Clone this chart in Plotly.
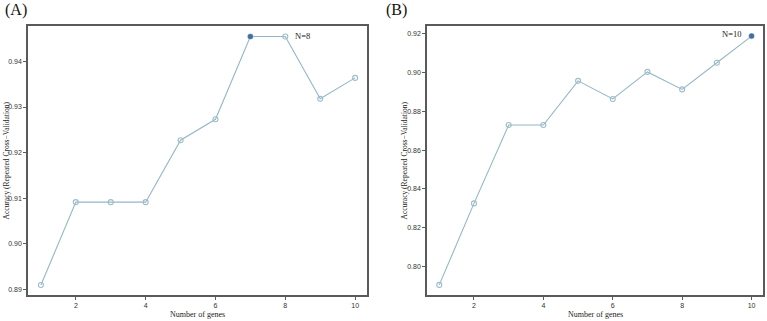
import plotly.graph_objects as go

genes = [1, 2, 3, 4, 5, 6, 7, 8, 9, 10]
acc_a = [0.8909, 0.9091, 0.9091, 0.9091, 0.9227, 0.9273, 0.9455, 0.9455, 0.9318, 0.9364]
acc_b = [0.7907, 0.8326, 0.8729, 0.8729, 0.8956, 0.8863, 0.9002, 0.8912, 0.9049, 0.9186]
best_a_x, best_a_y, label_a = 7, 0.9455, "N=8"
label_a_x = 8
best_b_x, best_b_y, label_b = 10, 0.9186, "N=10"
yticks_a = [0.89, 0.90, 0.91, 0.92, 0.93, 0.94]
yticks_b = [0.80, 0.82, 0.84, 0.86, 0.88, 0.90, 0.92]
xticks = [2, 4, 6, 8, 10]

line_col = "#94b8c4"
mk_col = "#9fbccb"
best_col = "#3f6fa3"
axis_col = "#5a5a5a"
serif = "Liberation Serif, Times New Roman, serif"
sans = "Liberation Sans, Arial, sans-serif"

fig = go.Figure()
for acc, xa, ya in [(acc_a, "x", "y"), (acc_b, "x2", "y2")]:
    fig.add_trace(go.Scatter(
        x=genes, y=acc, mode="lines+markers", xaxis=xa, yaxis=ya,
        line=dict(color=line_col, width=1.1),
        marker=dict(symbol="circle-open", size=5, color=mk_col, line=dict(width=1.1, color=mk_col)),
        showlegend=False, hoverinfo="x+y"))
fig.add_trace(go.Scatter(x=[best_a_x], y=[best_a_y], mode="markers", xaxis="x", yaxis="y",
                         marker=dict(size=5, color=best_col), showlegend=False))
fig.add_trace(go.Scatter(x=[best_b_x], y=[best_b_y], mode="markers", xaxis="x2", yaxis="y2",
                         marker=dict(size=5, color=best_col), showlegend=False))

ax_common = dict(showline=True, linecolor=axis_col, linewidth=1.5, mirror=True,
                 showgrid=False, zeroline=False, ticks="outside", ticklen=3,
                 tickcolor=axis_col, tickwidth=1,
                 tickfont=dict(family=sans, size=7, color="#333333"), automargin=False)

dom_y = [1 - 295 / 321, 1 - 26 / 321]
fig.update_layout(
    width=767, height=321, margin=dict(l=0, r=0, t=0, b=0),
    plot_bgcolor="white", paper_bgcolor="white",
    xaxis=dict(domain=[28 / 767, 367 / 767], range=[0.63, 10.34], tickvals=xticks, anchor="y", **ax_common),
    yaxis=dict(domain=dom_y, range=[0.8887, 0.9478], tickvals=yticks_a,
               tickformat=".2f", anchor="x", **ax_common),
    xaxis2=dict(domain=[427 / 767, 763 / 767], range=[0.646, 10.33], tickvals=xticks, anchor="y2", **ax_common),
    yaxis2=dict(domain=dom_y, range=[0.7855, 0.9238], tickvals=yticks_b,
                tickformat=".2f", anchor="x2", **ax_common),
)

ann = []
ann.append(dict(x=label_a_x, y=best_a_y, xref="x", yref="y", text=label_a, showarrow=False,
                xanchor="left", xshift=8, font=dict(family=serif, size=8.5, color="#222")))
ann.append(dict(x=best_b_x, y=best_b_y, xref="x2", yref="y2", text=label_b, showarrow=False,
                xanchor="right", xshift=-9, yshift=2, font=dict(family=serif, size=8.5, color="#222")))
ann.append(dict(x=3 / 767, y=1 - 10 / 321, xref="paper", yref="paper", text="(A)", showarrow=False,
                xanchor="left", yanchor="middle", font=dict(family=serif, size=16, color="#111")))
ann.append(dict(x=384 / 767, y=1 - 10 / 321, xref="paper", yref="paper", text="(B)", showarrow=False,
                xanchor="left", yanchor="middle", font=dict(family=serif, size=16, color="#111")))
for cx in [(28 + 367) / 2, (427 + 763) / 2]:
    ann.append(dict(x=cx / 767, y=1 - 314 / 321, xref="paper", yref="paper", text="Number of genes",
                    showarrow=False, xanchor="center", yanchor="middle",
                    font=dict(family=serif, size=8, color="#222")))
for lx in [6, 404]:
    ann.append(dict(x=lx / 767, y=(dom_y[0] + dom_y[1]) / 2, xref="paper", yref="paper",
                    text="Accuracy (Repeated Cross\u2212Validation)", textangle=-90, showarrow=False,
                    xanchor="center", yanchor="middle", font=dict(family=serif, size=7.5, color="#222")))
fig.update_layout(annotations=ann)

fig.write_html("out.html", config={"displayModeBar": False},
               post_script="document.body.style.margin='0';document.body.style.overflow='hidden';")
